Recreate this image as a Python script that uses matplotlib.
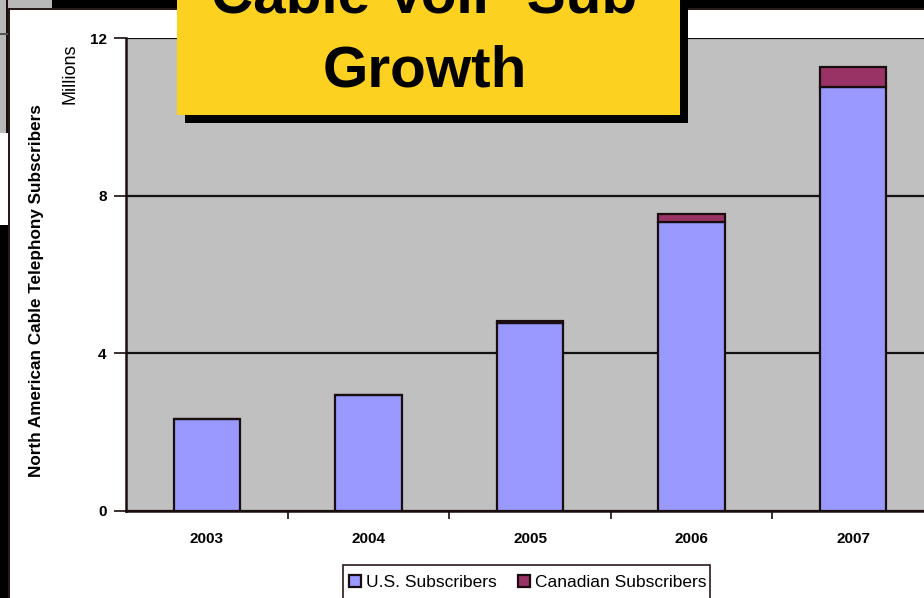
import matplotlib
matplotlib.use("Agg")
import matplotlib.pyplot as plt
from matplotlib.patches import Rectangle
import numpy as np

years = ["2003", "2004", "2005", "2006", "2007"]
us_subs = [2.34, 2.95, 4.77, 7.33, 10.76]
ca_subs = [0.0, 0.0, 0.05, 0.21, 0.51]
y_ticks = [0, 4, 8, 12]
title_lines = ["Cable VoIP Sub", "Growth"]
ylabel = "North American Cable Telephony Subscribers"
yunit = "Millions"
legend_labels = ["U.S. Subscribers", "Canadian Subscribers"]

W, H = 924, 598
FONT = "Liberation Sans"
fig = plt.figure(figsize=(W / 100, H / 100), dpi=100)
fig.patch.set_facecolor("white")


def rect(x, y, w, h, **kw):
    """Rectangle in pixel coords measured from top-left of the figure."""
    r = Rectangle((x / W, 1 - (y + h) / H), w / W, h / H,
                  transform=fig.transFigure, **kw)
    fig.patches.append(r)
    return r


# slide background pieces
rect(0, 0, W, 9, facecolor="black", edgecolor="none", zorder=0)
rect(0, 0, 52, 9, facecolor="#b8b8b8", edgecolor="none", zorder=0.1)
rect(0, 0, 8, 133, facecolor="#b8b8b8", edgecolor="none", zorder=0.1)
rect(6, 0, 2, 133, facecolor="#1a1010", edgecolor="none", zorder=0.2)
rect(0, 33, 8, 1.5, facecolor="#555555", edgecolor="none", zorder=0.2)
rect(0, 225, 9, H - 225, facecolor="black", edgecolor="none", zorder=0.2)
rect(8, 8, 2, H - 8, facecolor="#2a1a1a", edgecolor="none", zorder=0.3)
rect(8, 8, W - 8, 1.5, facecolor="#2a1a1a", edgecolor="none", zorder=0.3)

# axes
ax = fig.add_axes([126 / W, (H - 511) / H, 808 / W, 473 / H])
ax.set_facecolor("#c0c0c0")
x = np.arange(len(years))
bw = 0.41
ax.bar(x, us_subs, bw, color="#9999ff", edgecolor="#1a0d0d", linewidth=1.6,
       label=legend_labels[0], zorder=3)
ax.bar(x, ca_subs, bw, bottom=us_subs, color="#993366", edgecolor="#1a0d0d",
       linewidth=1.6, label=legend_labels[1], zorder=3)

ax.set_xlim(-0.5, len(years) - 0.5)
ax.set_ylim(0, 12)
ax.set_yticks(y_ticks)
ax.set_yticklabels([str(v) for v in y_ticks], fontsize=11, fontweight="bold",
                   family=FONT)
ax.set_xticks(x)
ax.set_xticklabels(years, fontsize=11, fontweight="bold", family=FONT)
ax.set_xticks(np.arange(0.5, len(years) - 0.5, 1), minor=True)
ax.tick_params(axis="x", which="major", length=0, pad=15)
ax.tick_params(axis="x", which="minor", length=6, width=1.2, color="#1a0d0d",
               direction="out")
ax.tick_params(axis="y", which="major", length=9, width=1.2, color="#1a0d0d",
               pad=5)
ax.yaxis.grid(True, color="#111111", linewidth=1.6, zorder=1)
ax.set_axisbelow(True)
for s in ["top", "right"]:
    ax.spines[s].set_visible(False)
for s in ["left", "bottom"]:
    ax.spines[s].set_color("#1a0d0d")
    ax.spines[s].set_linewidth(1.8)
ax.spines["bottom"].set_zorder(4)

# axis label texts
fig.text(37 / W, 1 - 291 / H, ylabel, rotation=90, ha="center", va="center",
         fontsize=12.3, fontweight="bold", family=FONT)
fig.text(70 / W, 1 - 74 / H, yunit, rotation=90, ha="center", va="center",
         fontsize=13, family=FONT)

# legend (frame drawn separately, running off the bottom edge as in the slide)
rect(343, 565, 367, 50, facecolor="white", edgecolor="#2a1a1a",
     linewidth=1.2, zorder=1)
leg = fig.legend(loc="upper left", bbox_to_anchor=(343 / W, 1 - 569 / H),
                 borderaxespad=0,
                 ncol=2, frameon=False,
                 handlelength=0.7, handleheight=0.7,
                 handletextpad=0.3, columnspacing=1.2, borderpad=0.35,
                 prop={"family": FONT, "size": 12.5})
leg.set_zorder(2)

# title box with shadow
rect(185, -20, 503, 143, facecolor="black", edgecolor="none", zorder=5)
rect(177, -20, 503, 135, facecolor="#fcd11f", edgecolor="none", zorder=6)
fig.text(424 / W, 1 - 12.5 / H, title_lines[0], ha="center", va="baseline",
         fontsize=42, fontweight="bold", family=FONT, zorder=7)
fig.text(425 / W, 1 - 86.5 / H, title_lines[1], ha="center", va="baseline",
         fontsize=42, fontweight="bold", family=FONT, zorder=7)

fig.savefig("out.png", dpi=100)
